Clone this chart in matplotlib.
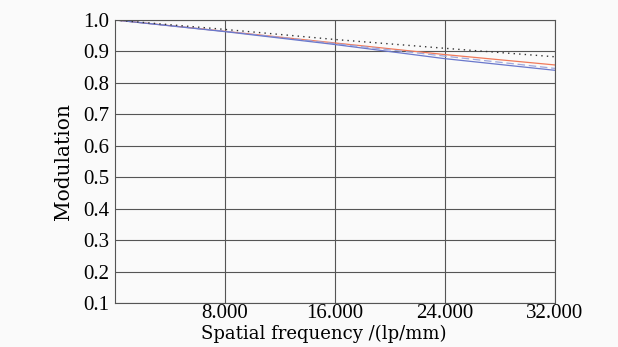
import numpy as np
import matplotlib
matplotlib.use("Agg")
import matplotlib.pyplot as plt

# spatial frequency samples (lp/mm)
freq = [0, 8, 16, 24, 32]

# MTF curves
diffraction = [1.0, 0.970, 0.938, 0.910, 0.883]
tangential = [1.0, 0.964, 0.927, 0.890, 0.857]
sagittal = [1.0, 0.963, 0.922, 0.877, 0.840]
sagittal_2 = [1.0, 0.964, 0.925, 0.885, 0.846]

x_ticks = [8, 16, 24, 32]
x_labels = ["8.000", "16.000", "24.000", "32.000"]
y_ticks = [0.1, 0.2, 0.3, 0.4, 0.5, 0.6, 0.7, 0.8, 0.9, 1.0]

plt.rcParams["font.family"] = ["Liberation Serif", "DejaVu Serif"]

fig = plt.figure(figsize=(6.18, 3.47), dpi=100, facecolor="#fafafa")
ax = fig.add_axes([115 / 618, 1 - 303 / 347, 440 / 618, 283 / 347])
ax.set_facecolor("#fafafa")

ax.plot(freq, tangential, color="#f07a5a", linewidth=0.9)
ax.plot(freq, sagittal_2, color="#a0a8dc", linestyle=(0, (6, 3)), linewidth=0.9)
ax.plot(freq, sagittal, color="#6a78cc", linewidth=0.9)
ax.plot(freq, diffraction, color="#333333", linestyle=(0, (1, 3)), linewidth=1.0)

ax.set_xlim(0, 32)
ax.set_ylim(0.1, 1.0)
ax.set_xticks(x_ticks)
ax.set_xticklabels(x_labels)
ax.set_yticks(y_ticks)
ax.set_yticklabels([f"{v:.1f}" for v in y_ticks])
ax.tick_params(axis="x", length=0, labelsize=15, pad=1)
ax.tick_params(axis="y", length=0, labelsize=15, pad=4)
ax.grid(True, color="#555555", linewidth=0.8)
ax.set_axisbelow(True)
for s in ax.spines.values():
    s.set_color("#555555")
    s.set_linewidth(0.8)

ax.set_xlabel("Spatial frequency /(lp/mm)", fontsize=13, family="DejaVu Serif")
ax.xaxis.set_label_coords(0.475, -0.078)
ax.set_ylabel("Modulation", fontsize=14.5, family="DejaVu Serif")
ax.yaxis.set_label_coords(-(115 - 73) / 440, 0.5)

fig.savefig("out.png", dpi=100, facecolor=fig.get_facecolor())
